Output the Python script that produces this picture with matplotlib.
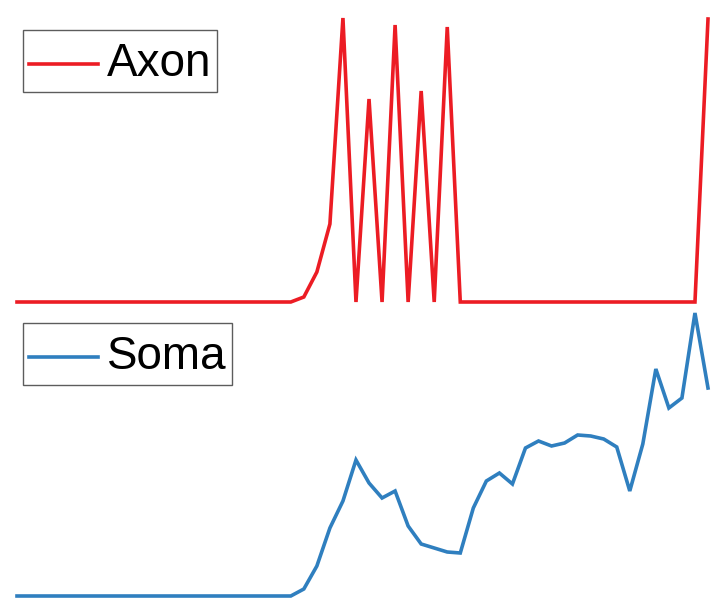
import matplotlib

matplotlib.use("Agg")
import matplotlib.pyplot as plt
import numpy as np
from matplotlib.legend_handler import HandlerLine2D

# sample index (54 equally spaced samples)
n_samples = 54

# axon trace, arbitrary units (0 = rest)
axon = [0] * 22 + [
    5, 30, 78, 284, 0, 203, 0, 277, 0, 211, 0, 275,
] + [0] * 18 + [0, 283]

# soma trace, arbitrary units
soma = [0] * 22 + [
    7, 30, 68, 95, 136, 113, 98, 105, 70, 52, 48, 44, 43,
    88, 115, 123, 112, 148, 155, 150, 153, 161, 160, 157, 149,
    105, 152, 227, 188, 198, 283, 208,
]

labels = ["Axon", "Soma"]
colors = ["#ec1c24", "#2f7fbf"]

W, H = 728, 614
fig = plt.figure(figsize=(W / 100, H / 100), dpi=100)

left = 17 / W
width = (708 - 17) / W


class LoweredLine(HandlerLine2D):
    # taller legend row, but keep the sample line level with the text
    def create_artists(self, legend, orig_handle, xdescent, ydescent,
                       width, height, fontsize, trans):
        artists = super().create_artists(legend, orig_handle, xdescent, ydescent,
                                         width, height, fontsize, trans)
        for art in artists:
            art.set_ydata(np.asarray(art.get_ydata()) - 0.17 * fontsize)
        return artists


def panel(bottom_px, top_px, values, label, color, legend_top_px):
    ax = fig.add_axes([left, 1 - bottom_px / H, width, (bottom_px - top_px) / H])
    line, = ax.plot(range(n_samples), values, color=color, linewidth=2.6,
                    solid_joinstyle="miter", label=label, clip_on=False)
    ax.set_xlim(0, n_samples - 1)
    ax.set_ylim(0, 284)
    ax.axis("off")
    leg = ax.legend(
        loc="upper left",
        bbox_to_anchor=(23 / W, 1 - legend_top_px / H),
        bbox_transform=fig.transFigure,
        prop={"family": "Liberation Sans", "size": 33},
        frameon=True,
        fancybox=False,
        borderaxespad=0,
        borderpad=0.13,
        handlelength=1.5,
        handleheight=1.3,
        handletextpad=0.2,
        handler_map={line: LoweredLine()},
    )
    leg.get_frame().set_edgecolor("#333333")
    leg.get_frame().set_linewidth(1.0)
    return ax


panel(302, 18, axon, labels[0], colors[0], 30)
panel(596, 312, soma, labels[1], colors[1], 323)

fig.savefig("out.png", dpi=100)
